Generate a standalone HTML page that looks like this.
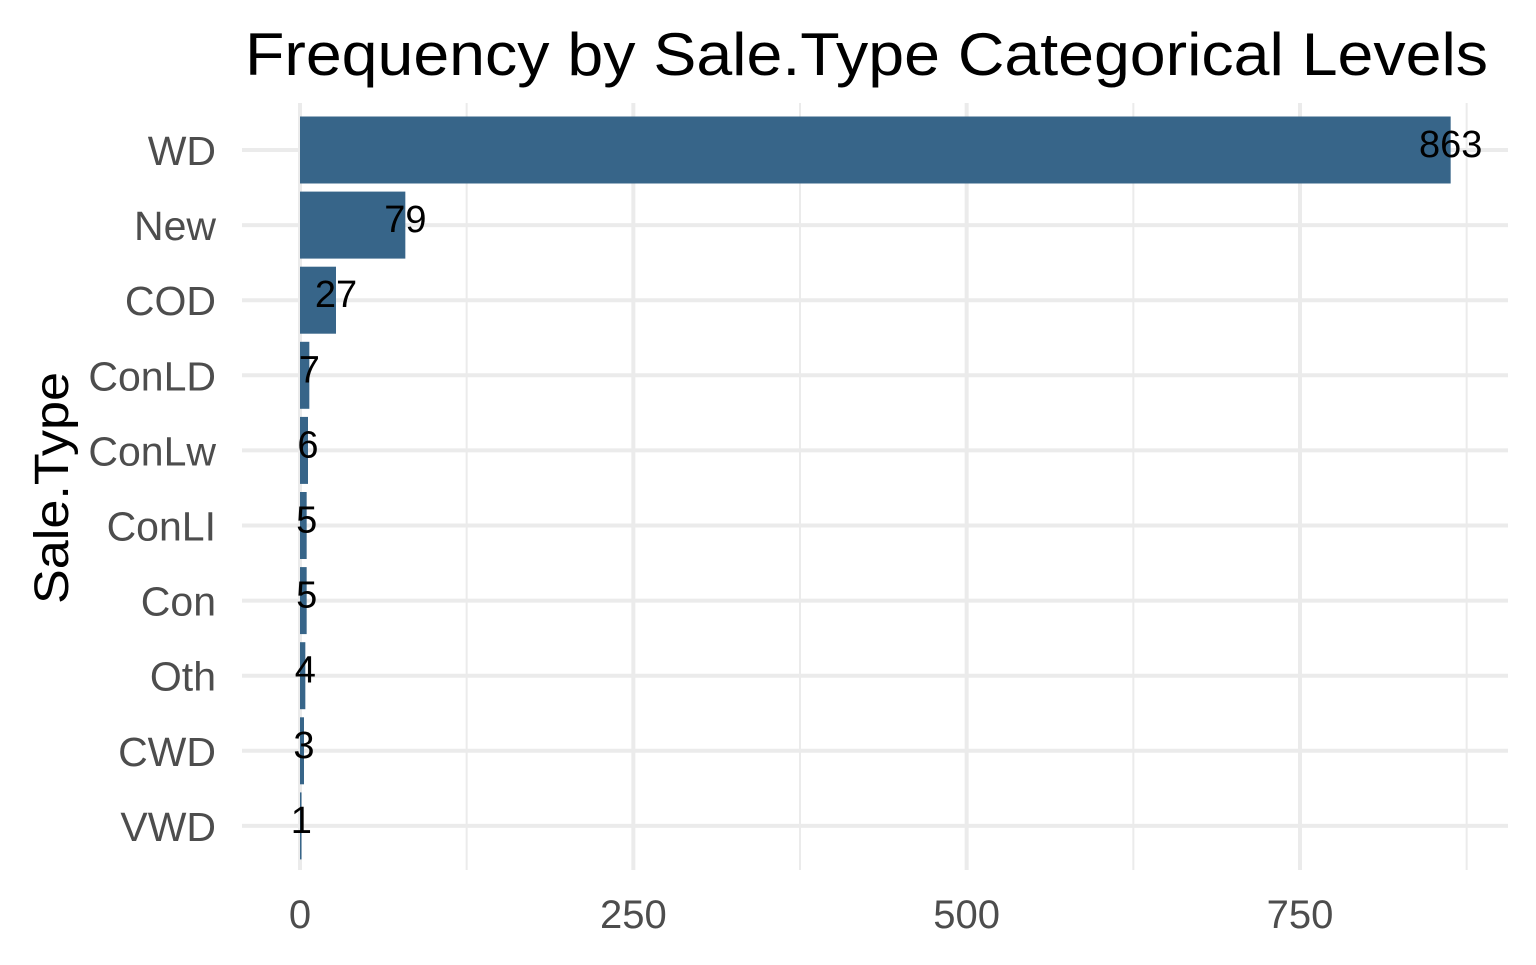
<!DOCTYPE html>
<html><head><meta charset="utf-8"><style>
body{margin:0;background:#fff;}
svg text{font-family:"Liberation Sans","DejaVu Sans",sans-serif;}
</style></head><body>
<svg width="1536" height="960" viewBox="0 0 1536 960" id="chart">
<text x="245" y="75" textLength="1243" lengthAdjust="spacingAndGlyphs" font-size="60" fill="#000">Frequency by Sale.Type Categorical Levels</text>
<text transform="translate(68,488) rotate(-90)" text-anchor="middle" font-size="48" textLength="232" lengthAdjust="spacingAndGlyphs" fill="#000">Sale.Type</text>
<g id="grid"></g><g id="bars"></g><g id="labels"></g>
</svg>
<script>
const categories=["WD","New","COD","ConLD","ConLw","ConLI","Con","Oth","CWD","VWD"];
const counts=[863,79,27,7,6,5,5,4,3,1];
const xTicks=[0,250,500,750];
const xMinor=[125,375,625,875];
const NS="http://www.w3.org/2000/svg";
const x=v=>300+v*(1000/750);
const y=i=>150+i*75.1;
const bh=67;
function mk(t,a,p){const e=document.createElementNS(NS,t);for(const k in a)e.setAttribute(k,a[k]);p.appendChild(e);return e;}
const g=document.getElementById('grid'),b=document.getElementById('bars'),l=document.getElementById('labels');
xMinor.forEach(v=>{const e=mk('line',{x1:x(v),x2:x(v),y1:103,y2:870,stroke:'#ebebeb','stroke-width':2},g);

});
xTicks.forEach(v=>{const e=mk('line',{x1:x(v),x2:x(v),y1:103,y2:870,stroke:'#ebebeb','stroke-width':4},g);


const t=mk('text',{x:x(v),y:928,'text-anchor':'middle','font-size':40,fill:'#4d4d4d'},l);t.textContent=v;

});
categories.forEach((c,i)=>{const e=mk('line',{x1:242,x2:1508,y1:y(i),y2:y(i),stroke:'#ebebeb','stroke-width':4},g);


const r=mk('rect',{x:x(0),y:y(i)-bh/2,width:Math.max(x(counts[i])-x(0),1.5),height:bh,fill:'#376589'},b);


const t=mk('text',{x:x(counts[i]),y:y(i)+7,'text-anchor':'middle','font-size':38,fill:'#000'},l);t.textContent=counts[i];


const ct=mk('text',{x:216,y:y(i)+15,'text-anchor':'end','font-size':41,fill:'#4d4d4d'},l);ct.textContent=c;

});
</script>
</body></html>
